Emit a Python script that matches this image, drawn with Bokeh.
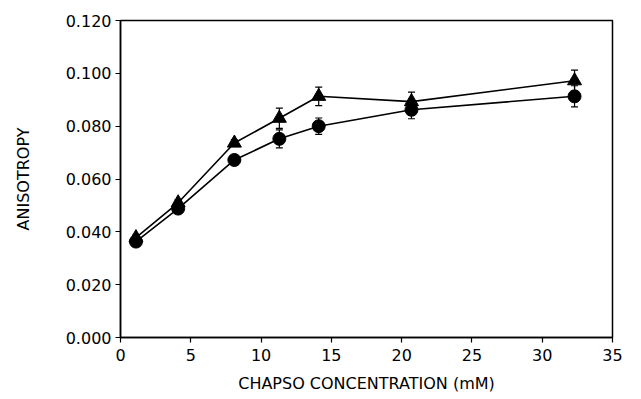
from bokeh.plotting import figure
from bokeh.models import FixedTicker, ColumnDataSource, Whisker, TeeHead, Range1d
from bokeh.embed import file_html
from bokeh.resources import INLINE

conc = [1.1, 4.1, 8.1, 11.3, 14.1, 20.7, 32.3]
aniso_circle = [0.0363, 0.0488, 0.0672, 0.0752, 0.0800, 0.0862, 0.0913]
err_circle = [0.0010, 0.0012, 0.0012, 0.0034, 0.0031, 0.0034, 0.0040]
aniso_triangle = [0.0378, 0.0510, 0.0736, 0.0830, 0.0913, 0.0893, 0.0972]
err_triangle = [0.0010, 0.0012, 0.0012, 0.0038, 0.0035, 0.0036, 0.0040]
x_ticks = [0, 5, 10, 15, 20, 25, 30, 35]
y_ticks = [0.0, 0.02, 0.04, 0.06, 0.08, 0.10, 0.12]

FONT = "DejaVu Sans"

p = figure(width=633, height=391, output_backend="svg", toolbar_location=None,
           x_range=Range1d(0, 35), y_range=Range1d(0, 0.12),
           min_border_left=120, min_border_right=21, min_border_top=20, min_border_bottom=54,
           frame_width=492, frame_height=317)
p.xgrid.visible = False
p.ygrid.visible = False
p.outline_line_color = "black"
p.outline_line_width = 1.5
p.background_fill_color = "white"
p.border_fill_color = "white"

for ax in (p.xaxis[0], p.yaxis[0]):
    ax.axis_line_color = "black"
    ax.axis_line_width = 1.5
    ax.major_tick_line_color = "black"
    ax.major_tick_line_width = 1.2
    ax.major_tick_out = 5
    ax.major_tick_in = 0
    ax.minor_tick_line_color = None
    ax.major_label_text_font = FONT
    ax.major_label_text_font_size = "16px"
    ax.major_label_text_color = "black"
    ax.axis_label_text_font = FONT
    ax.axis_label_text_font_size = "16px"
    ax.axis_label_text_font_style = "normal"
    ax.axis_label_text_color = "black"

p.xaxis.ticker = FixedTicker(ticks=x_ticks)
p.yaxis.ticker = FixedTicker(ticks=y_ticks)
p.yaxis.major_label_overrides = {t: "%.3f" % t for t in y_ticks}
p.xaxis.axis_label = "CHAPSO CONCENTRATION (mM)"
p.yaxis.axis_label = "ANISOTROPY"
p.yaxis.major_label_standoff = 4
p.xaxis.major_label_standoff = 6
p.yaxis.axis_label_standoff = 30
p.xaxis.axis_label_standoff = 10

src_c = ColumnDataSource(dict(x=conc, y=aniso_circle,
                              lo=[a - e for a, e in zip(aniso_circle, err_circle)],
                              hi=[a + e for a, e in zip(aniso_circle, err_circle)]))
src_t = ColumnDataSource(dict(x=conc, y=aniso_triangle,
                              lo=[a - e for a, e in zip(aniso_triangle, err_triangle)],
                              hi=[a + e for a, e in zip(aniso_triangle, err_triangle)]))

p.line("x", "y", source=src_c, line_color="black", line_width=1.6)
p.line("x", "y", source=src_t, line_color="black", line_width=1.6)

for src in (src_c, src_t):
    w = Whisker(source=src, base="x", lower="lo", upper="hi", line_color="black", line_width=1.2,
                upper_head=TeeHead(size=7, line_color="black", line_width=1.2),
                lower_head=TeeHead(size=7, line_color="black", line_width=1.2))
    p.add_layout(w)

p.scatter("x", "y", source=src_t, marker="triangle", size=14, fill_color="black", line_color="black")
p.scatter("x", "y", source=src_c, marker="circle", size=13, fill_color="black", line_color="black")

open("out.html", "w").write(file_html(p, INLINE))
